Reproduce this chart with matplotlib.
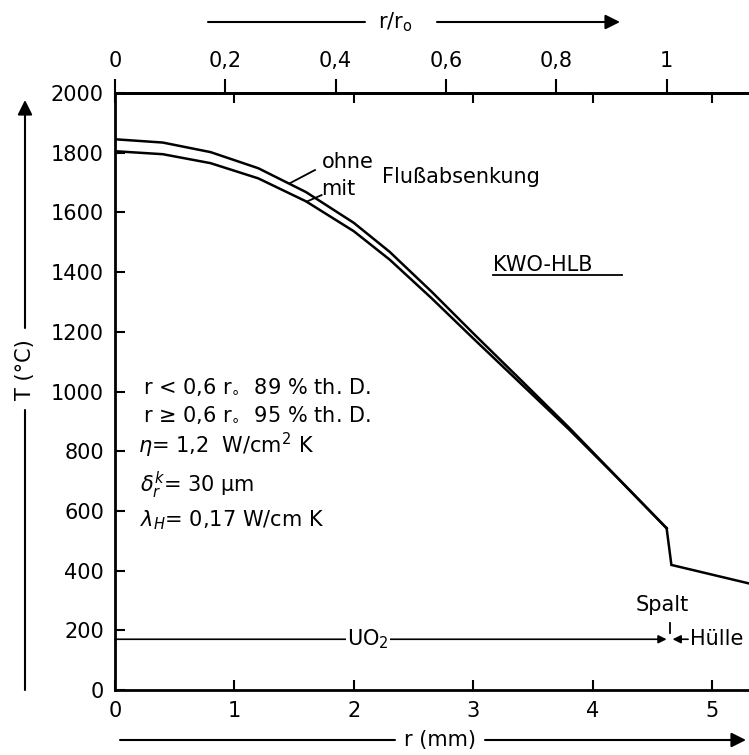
import numpy as np
import matplotlib.pyplot as plt

plt.rcParams['font.family'] = ['DejaVu Sans']
plt.rcParams['mathtext.fontset'] = 'dejavusans'

# Brennstoffradius (mm)
r0 = 4.62

# Temperaturverlauf ohne Flussabsenkung
r_ohne = [0.0, 0.4, 0.8, 1.2, 1.6, 2.0, 2.3, 2.65, 3.0, 3.4, 3.8, 4.2, 4.62]
T_ohne = [1845, 1834, 1802, 1748, 1668, 1565, 1468, 1335, 1195, 1038, 880, 715, 542]

# Temperaturverlauf mit Flussabsenkung
r_mit = [0.0, 0.4, 0.8, 1.2, 1.6, 2.0, 2.3, 2.65, 3.0, 3.4, 3.8, 4.2]
T_mit = [1805, 1795, 1765, 1714, 1637, 1537, 1442, 1313, 1178, 1026, 874, 714]

# Spalt und Huelle (gemeinsam)
r_aussen = [4.62, 4.66, 5.31]
T_aussen = [542, 419, 357]

xticks = [0, 1, 2, 3, 4, 5]
yticks = [0, 200, 400, 600, 800, 1000, 1200, 1400, 1600, 1800, 2000]
top_ticks = [0, 0.2, 0.4, 0.6, 0.8, 1.0]
top_labels = ['0', '0,2', '0,4', '0,6', '0,8', '1']

W, H = 749, 755


def px(x, y):
    return x / W, 1 - y / H


fig = plt.figure(figsize=(7.49, 7.55), dpi=100)
ax = fig.add_axes([115 / W, 1 - 690 / H, 1 - 115 / W, (690 - 93) / H])

lw = 1.8
ax.plot(r_ohne, T_ohne, color='k', lw=lw, solid_joinstyle='round')
ax.plot(r_mit + [r_ohne[-1]], T_mit + [T_ohne[-1]], color='k', lw=lw, solid_joinstyle='round')
ax.plot(r_aussen, T_aussen, color='k', lw=lw, solid_joinstyle='miter')

ax.set_xlim(0, 5.31)
ax.set_ylim(0, 2000)
ax.set_xticks(xticks)
ax.set_xticklabels([str(v) for v in xticks])
ax.set_yticks(yticks)
ax.set_yticklabels([str(v) for v in yticks])
ax.tick_params(direction='in', length=7, width=1.5, labelsize=15, pad=8,
               top=True, right=False, labeltop=False)
ax.spines['right'].set_visible(False)
for s in ['left', 'bottom', 'top']:
    ax.spines[s].set_linewidth(2)

sec = ax.secondary_xaxis('top', functions=(lambda x: x / r0, lambda x: x * r0))
sec.set_xticks(top_ticks)
sec.set_xticklabels(top_labels)
sec.tick_params(direction='out', length=10, width=1.5, labelsize=15, pad=6)
sec.spines['top'].set_linewidth(2)

fs = 15
# Kurvenbeschriftung
ax.text(1.73, 1769, 'ohne', fontsize=fs, va='center')
ax.text(1.73, 1680, 'mit', fontsize=fs, va='center')
ax.text(2.24, 1719, 'Flußabsenkung', fontsize=fs, va='center')
ax.plot([1.466, 1.675], [1698, 1742], color='k', lw=1.3)
ax.plot([1.605, 1.73], [1636, 1658], color='k', lw=1.3)

ax.text(3.17, 1424, 'KWO-HLB', fontsize=fs, va='center')
ax.plot([3.17, 4.25], [1390, 1390], color='k', lw=1.3)

# Parameter
ax.text(0.235, 1015, r'r < 0,6 r$_{\circ}$  89 % th. D.', fontsize=fs, va='center')
ax.text(0.235, 921, r'r ≥ 0,6 r$_{\circ}$  95 % th. D.', fontsize=fs, va='center')
ax.text(0.19, 821, r'$\eta$= 1,2  W/cm$^2$ K', fontsize=fs, va='center')
ax.text(0.21, 687, r'$\delta_r^k$= 30 µm', fontsize=fs, va='center')
ax.text(0.21, 570, r'$\lambda_H$= 0,17 W/cm K', fontsize=fs, va='center')

# Bereiche UO2 / Spalt / Huelle
ax.annotate('', xy=(4.62, 170), xytext=(0, 170),
            arrowprops=dict(arrowstyle='-|>', color='k', lw=1.2, mutation_scale=12,
                            shrinkA=0, shrinkB=0))
ax.text(2.12, 170, r'UO$_2$', fontsize=fs, va='center', ha='center',
        bbox=dict(facecolor='white', edgecolor='none', pad=1))
ax.plot([4.65, 4.65], [190, 224], color='k', lw=1.3)
ax.text(4.58, 285, 'Spalt', fontsize=fs, va='center', ha='center')
ax.annotate('', xy=(4.67, 170), xytext=(4.80, 170),
            arrowprops=dict(arrowstyle='-|>', color='k', lw=1.2, mutation_scale=12,
                            shrinkA=0, shrinkB=0))
ax.text(4.82, 170, 'Hülle', fontsize=fs, va='center', ha='left', clip_on=False)

# Achsentitel mit Pfeilen
arr = dict(arrowstyle='-|>', color='k', lw=1.5, mutation_scale=22, shrinkA=0, shrinkB=0)
fig.text(*px(395, 22), r'r/r$_\mathregular{o}$', fontsize=fs, ha='center', va='center')
ax.annotate('', xy=px(208, 22), xytext=px(365, 22), xycoords='figure fraction',
            arrowprops=dict(arrowstyle='-', color='k', lw=1.5, shrinkA=0, shrinkB=0))
ax.annotate('', xy=px(620, 22), xytext=px(437, 22), xycoords='figure fraction', arrowprops=arr)

fig.text(*px(440, 740), 'r (mm)', fontsize=fs, ha='center', va='center')
ax.annotate('', xy=px(120, 740), xytext=px(395, 740), xycoords='figure fraction',
            arrowprops=dict(arrowstyle='-', color='k', lw=1.5, shrinkA=0, shrinkB=0))
ax.annotate('', xy=px(746, 740), xytext=px(485, 740), xycoords='figure fraction', arrowprops=arr)

fig.text(*px(25, 370), 'T (°C)', fontsize=fs, ha='center', va='center', rotation=90)
ax.annotate('', xy=px(25, 410), xytext=px(25, 690), xycoords='figure fraction',
            arrowprops=dict(arrowstyle='-', color='k', lw=1.5, shrinkA=0, shrinkB=0))
ax.annotate('', xy=px(25, 100), xytext=px(25, 328), xycoords='figure fraction', arrowprops=arr)

fig.savefig('out.png', dpi=100)
